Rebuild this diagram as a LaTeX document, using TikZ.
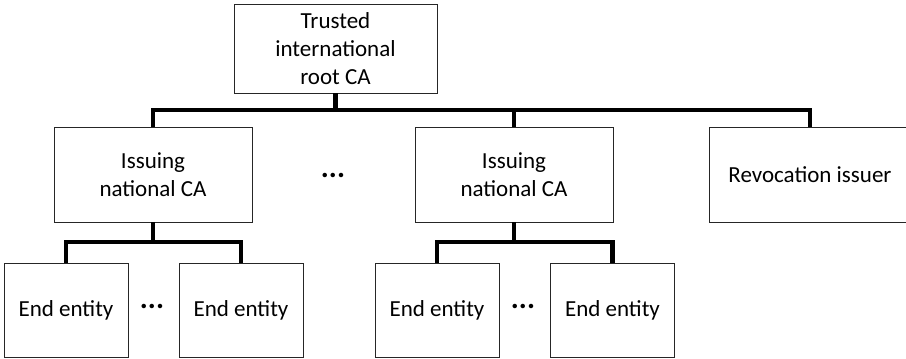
\documentclass[tikz,border=0pt]{standalone}
\usepackage{fontspec}
\setmainfont{Carlito}
\usepackage{tikz}

\tikzset{
	cabox/.style={draw=black!85, line width=0.8pt, fill=white, align=center,
		font=\fontsize{23}{28}\selectfont, inner sep=0pt},
	bigbox/.style={cabox, minimum width=200pt, minimum height=95pt},
	eebox/.style={cabox, minimum width=124pt, minimum height=94pt},
	bus/.style={line width=4.5pt, black, line join=miter},
	gap/.style={font=\fontsize{30}{30}\selectfont\bfseries, inner sep=0pt, anchor=base}
}

\begin{document}
\begin{tikzpicture}[x=1pt,y=-1pt]

	\useasboundingbox (0,0) rectangle (906,359);

	\node[cabox, minimum width=203pt, minimum height=89pt] (root) at (335.5,48.5)
		{Trusted\\international\\root CA};

	\node[bigbox, minimum width=198pt] (iss1) at (153,174.5) {Issuing\\national CA};
	\node[bigbox, minimum width=198pt] (iss2) at (514,174.5) {Issuing\\national CA};
	\node[bigbox, minimum width=202pt] (rev) at (810,174.5) {Revocation issuer};

	\node[eebox] (ee1) at (66,310) {End entity};
	\node[eebox] (ee2) at (241,310) {End entity};
	\node[eebox] (ee3) at (437,310) {End entity};
	\node[eebox] (ee4) at (612.5,310) {End entity};

	\node[gap] (d1) at (333,177.5) {...};
	\node[gap] (d2) at (152,308.5) {...};
	\node[gap] (d3) at (523,308.5) {...};

	\coordinate (topbus) at (0,110);
	\coordinate (lowbus) at (0,242);

	\foreach \j in {iss1, iss2, rev}
	{
		\draw[bus] (root.south) -- (root.south |- topbus) -| (\j.north);
	};

	\foreach \i / \j in {
	iss1/ee1,
	iss1/ee2,
	iss2/ee3,
	iss2/ee4}
	{
		\draw[bus] (\i.south) -- (\i.south |- lowbus) -| (\j.north);
	};
	\end{tikzpicture}
\end{document}
